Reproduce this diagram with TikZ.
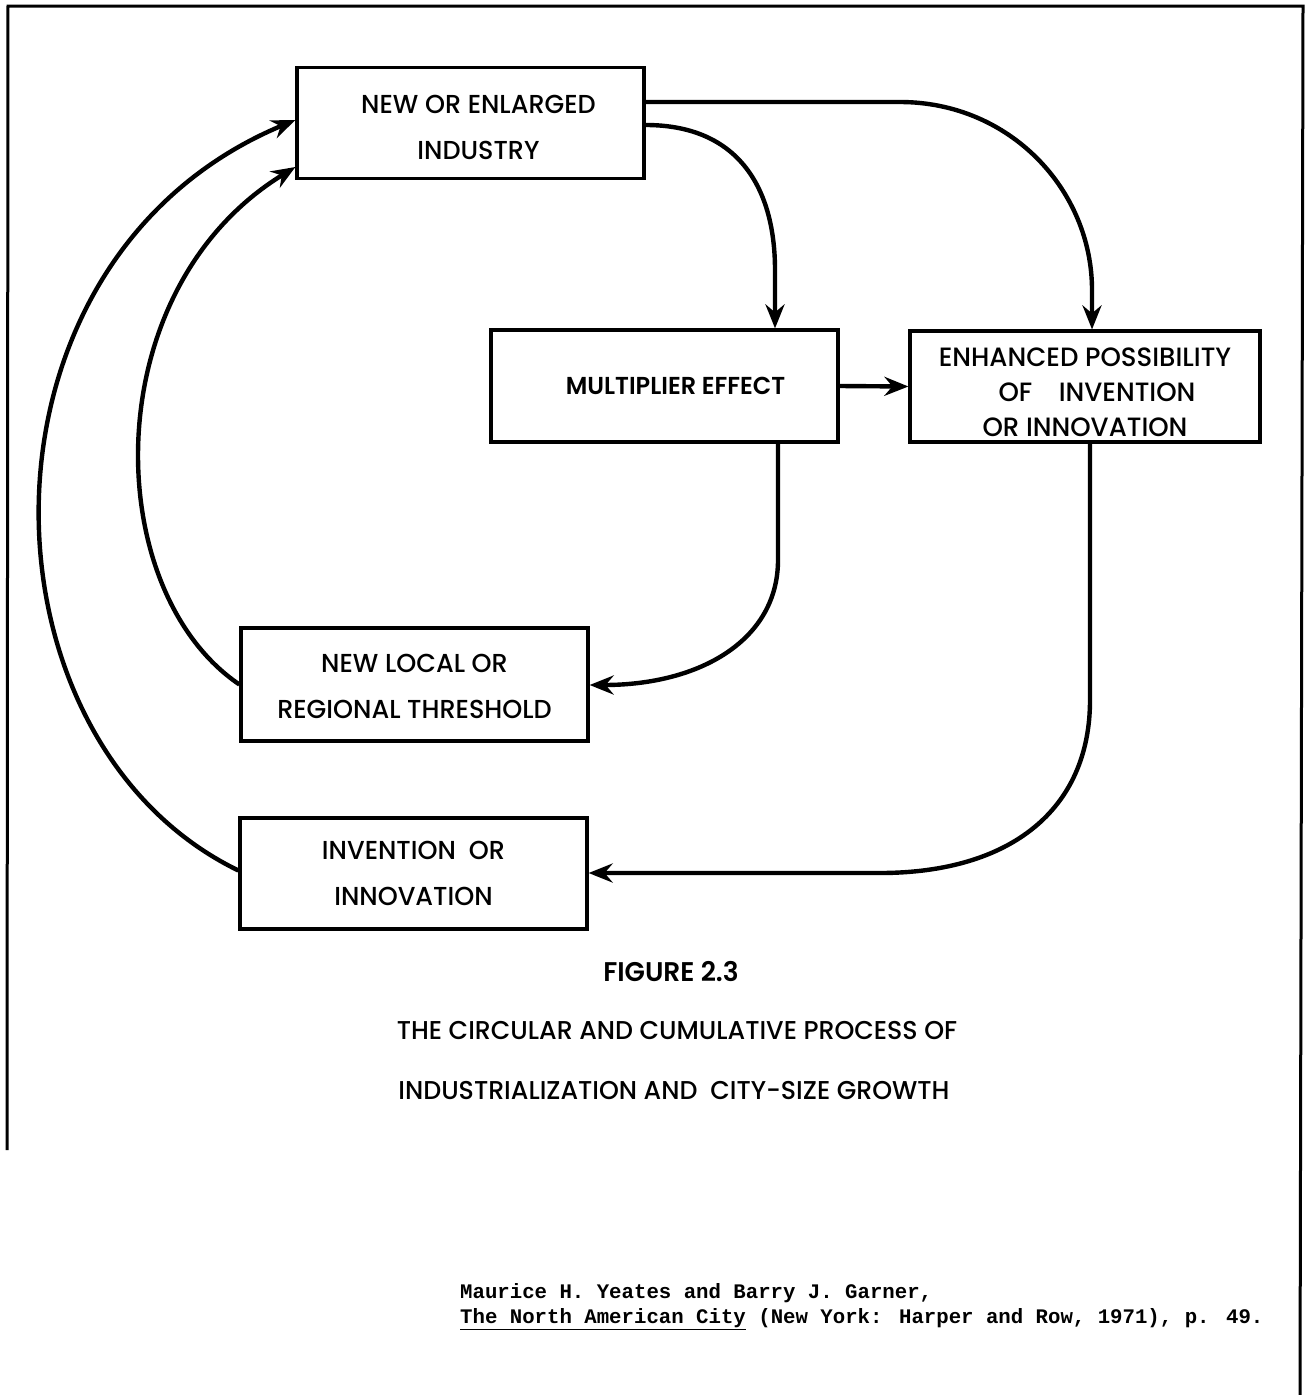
\documentclass[tikz,border=0pt]{standalone}
\usepackage{fontspec}
\usetikzlibrary{arrows.meta,calc}
\newfontfamily\boxfont[FakeStretch=0.98]{Poppins Medium}
\newfontfamily\boxfontb[FakeStretch=0.98]{Poppins SemiBold}
\newfontfamily\citefont{Liberation Mono}
\begin{document}
\begin{tikzpicture}[x=1pt,y=-1pt,
  box/.style={draw,line width=3.2pt,minimum width=347pt,minimum height=111pt,inner sep=0pt},
  txt/.style={inner sep=0pt,align=center,font=\boxfont\fontsize{26}{46}\selectfont},
  conn/.style={line width=4.4pt,-{Stealth[length=24pt,width=19pt,inset=8pt]}},
  captxt/.style={font=\boxfont\fontsize{25.8}{28}\selectfont,inner sep=0pt},
  citetxt/.style={anchor=base west,inner sep=0pt,font=\citefont\bfseries\fontsize{20.7}{24}\selectfont}
]
\useasboundingbox (0,0) rectangle (1311,1395);
\draw[line width=3pt] (7,1150) -- (8,6) -- (1303,6) -- (1300,1395);

\node[box] (b1) at (470.5,123) {};
\node[box,minimum height=112pt] (b2) at (664.5,386) {};
\node[box,minimum width=350pt] (b3) at (1085,386.5) {};
\node[box,minimum height=113pt] (b4) at (414.5,684.5) {};
\node[box] (b5) at (413.5,873.5) {};

\node[txt] (t1) at ([yshift=-4pt,xshift=8pt]b1.center) {NEW OR ENLARGED\\INDUSTRY};
\node[txt,font=\boxfontb\fontsize{24.5}{46}\selectfont] (t2) at ([xshift=11pt]b2.center) {MULTIPLIER EFFECT};
\node[txt,font=\boxfont\fontsize{26.5}{35}\selectfont] (t3) at ([yshift=-5.5pt]b3.center) {ENHANCED POSSIBILITY\\\hspace*{24pt}OF\quad INVENTION\\OR INNOVATION};
\node[txt] (t4) at ([yshift=-2pt]b4.center) {NEW LOCAL OR\\REGIONAL THRESHOLD};
\node[txt] (t5) at (b5.center) {INVENTION\enspace OR\\INNOVATION};

% b1 -> b3
\draw[conn] ([yshift=21pt]b1.east) -- (900,102) .. controls (1010,102) and (1092,190) .. (1092,290) -- (b3.north -| 1092,0);
% b1 -> b2
\draw[conn] ([yshift=-2pt]b1.east) .. controls (740,125) and (775,190) .. (775,270) -- (b2.north -| 775,0);
% b2 -> b3
\draw[conn] (b2.east) -- (b3.west);
% b2 -> b4
\draw[conn] (b2.south -| 778,0) -- (778,560) .. controls (778,640) and (700,685) .. (b4.east |- 0,685);
% b3 -> b5
\draw[conn] (b3.south -| 1090,0) -- (1090,700) .. controls (1090,810) and (1010,873) .. (880,873) -- (b5.east |- 0,873);
% b4 -> b1
\draw[conn] (b4.west) .. controls (100,590) and (95,290) .. ([yshift=-44pt]b1.west);
% b5 -> b1
\draw[conn] ([yshift=3pt]b5.west) .. controls (-30,740) and (-40,260) .. ([yshift=3pt]b1.west);

\node[captxt,font=\boxfontb\fontsize{27}{28}\selectfont] (c1) at (671,972) {FIGURE 2.3};
\node[captxt] (c2) at (677,1030) {THE CIRCULAR AND CUMULATIVE PROCESS OF};
\node[captxt] (c3) at (674,1090) {INDUSTRIALIZATION AND\enspace CITY-SIZE GROWTH};

\node[citetxt] (r1) at (460,1298) {Maurice H. Yeates and Barry J. Garner,};
\node[citetxt] (r2) at (460,1323) {\underline{The North American City} (New York: Harper and Row, 1971), p. 49.};
\end{tikzpicture}
\end{document}
